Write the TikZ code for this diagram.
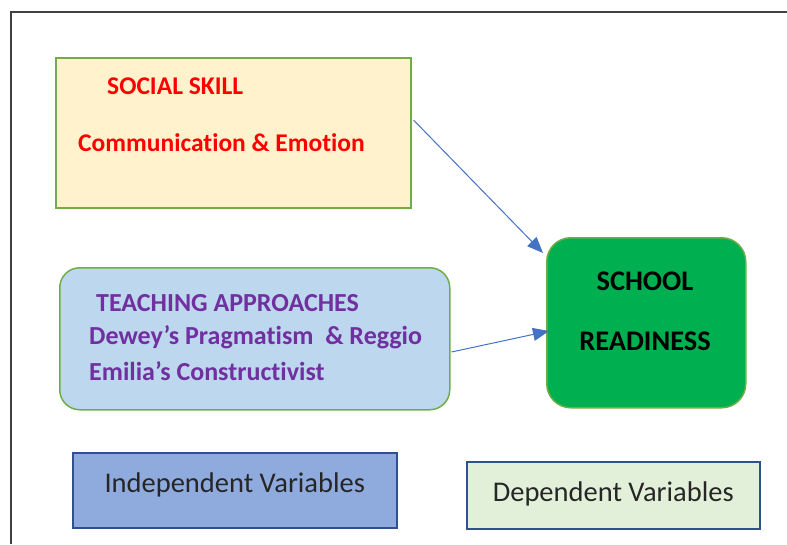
\documentclass[tikz,border=0pt]{standalone}
\usepackage{fontspec}
\setmainfont[Ligatures=NoCommon]{Carlito}
\usetikzlibrary{arrows.meta,calc}
\definecolor{cred}{HTML}{FF0000}
\definecolor{cpurple}{HTML}{7030A0}
\definecolor{cgreen}{HTML}{00B050}
\definecolor{cborder}{HTML}{70AD47}
\definecolor{carrow}{HTML}{4472C4}
\definecolor{cyellow}{HTML}{FFF2CC}
\definecolor{clblue}{HTML}{BDD7EE}
\definecolor{cindep}{HTML}{8FAADC}
\definecolor{cdep}{HTML}{E2F0D9}
\definecolor{cdark}{HTML}{2F528F}
\definecolor{cframe}{HTML}{404040}
\tikzset{
  box/.style={draw=cborder, line width=1.5pt, inner sep=0pt, anchor=north west},
  legend/.style={draw=cdark, line width=1.5pt, inner sep=0pt, anchor=north west},
  redlbl/.style={inner sep=0pt, anchor=west, text=cred, font=\bfseries\fontsize{25.5}{28}\selectfont},
  purplbl/.style={inner sep=0pt, anchor=west, text=cpurple, font=\bfseries\fontsize{26}{28}\selectfont},
  srlbl/.style={inner sep=0pt, anchor=center, font=\bfseries\fontsize{28.4}{30}\selectfont},
  leglbl/.style={inner sep=0pt, text=black!85, font=\fontsize{28.5}{30}\selectfont},
  conn/.style={draw=carrow, line width=1pt, -{Triangle[length=16pt,width=13pt]}},
}
\begin{document}
\begin{tikzpicture}[x=1pt,y=-1pt]
\useasboundingbox (0,0) rectangle (787,544);
\draw[cframe, line width=1.5pt] (11,544) -- (11,12) -- (787,12);
% boxes
\node[box, fill=cyellow, minimum width=355pt, minimum height=150pt] (soc) at (55,57) {};
\node[box, fill=clblue, rounded corners=20pt, minimum width=390pt, minimum height=142pt] (teach) at (59,267) {};
\node[box, fill=cgreen, rounded corners=24pt, minimum width=199pt, minimum height=170pt] (sr) at (546,237) {};
\node[legend, fill=cindep, minimum width=324pt, minimum height=75pt] (indep) at (72,452) {};
\node[legend, fill=cdep, minimum width=293pt, minimum height=67pt] (dep) at (466,461) {};
% texts
\node[redlbl] (t1) at (107,86) {SOCIAL SKILL};
\node[redlbl] (t2) at (78,143) {Communication \& Emotion};
\node[purplbl] (t3) at (96,303) {TEACHING APPROACHES};
\node[purplbl] (t4) at (89,337) {Dewey’s Pragmatism\ \ \& Reggio};
\node[purplbl] (t5) at (89,371) {Emilia’s Constructivist};
\node[srlbl] (t6) at (645,281) {SCHOOL};
\node[srlbl] (t7) at (645,341) {READINESS};
\node[leglbl] (t8) at ($(indep.center)+(0,-5)$) {Independent Variables};
\node[leglbl] (t9) at ($(dep.center)+(0,-1)$) {Dependent Variables};
% connectors
\coordinate (a1s) at ($(soc.north east)+(2,63)$);
\coordinate (a1e) at ($(sr.north west)+(-3,16)$);
\coordinate (a2s) at ($(teach.north east)+(1,85)$);
\coordinate (a2e) at ($(sr.north west)+(3,94)$);
\draw[conn] (a1s) -- (a1e);
\draw[conn] (a2s) -- (a2e);
\end{tikzpicture}
\end{document}
